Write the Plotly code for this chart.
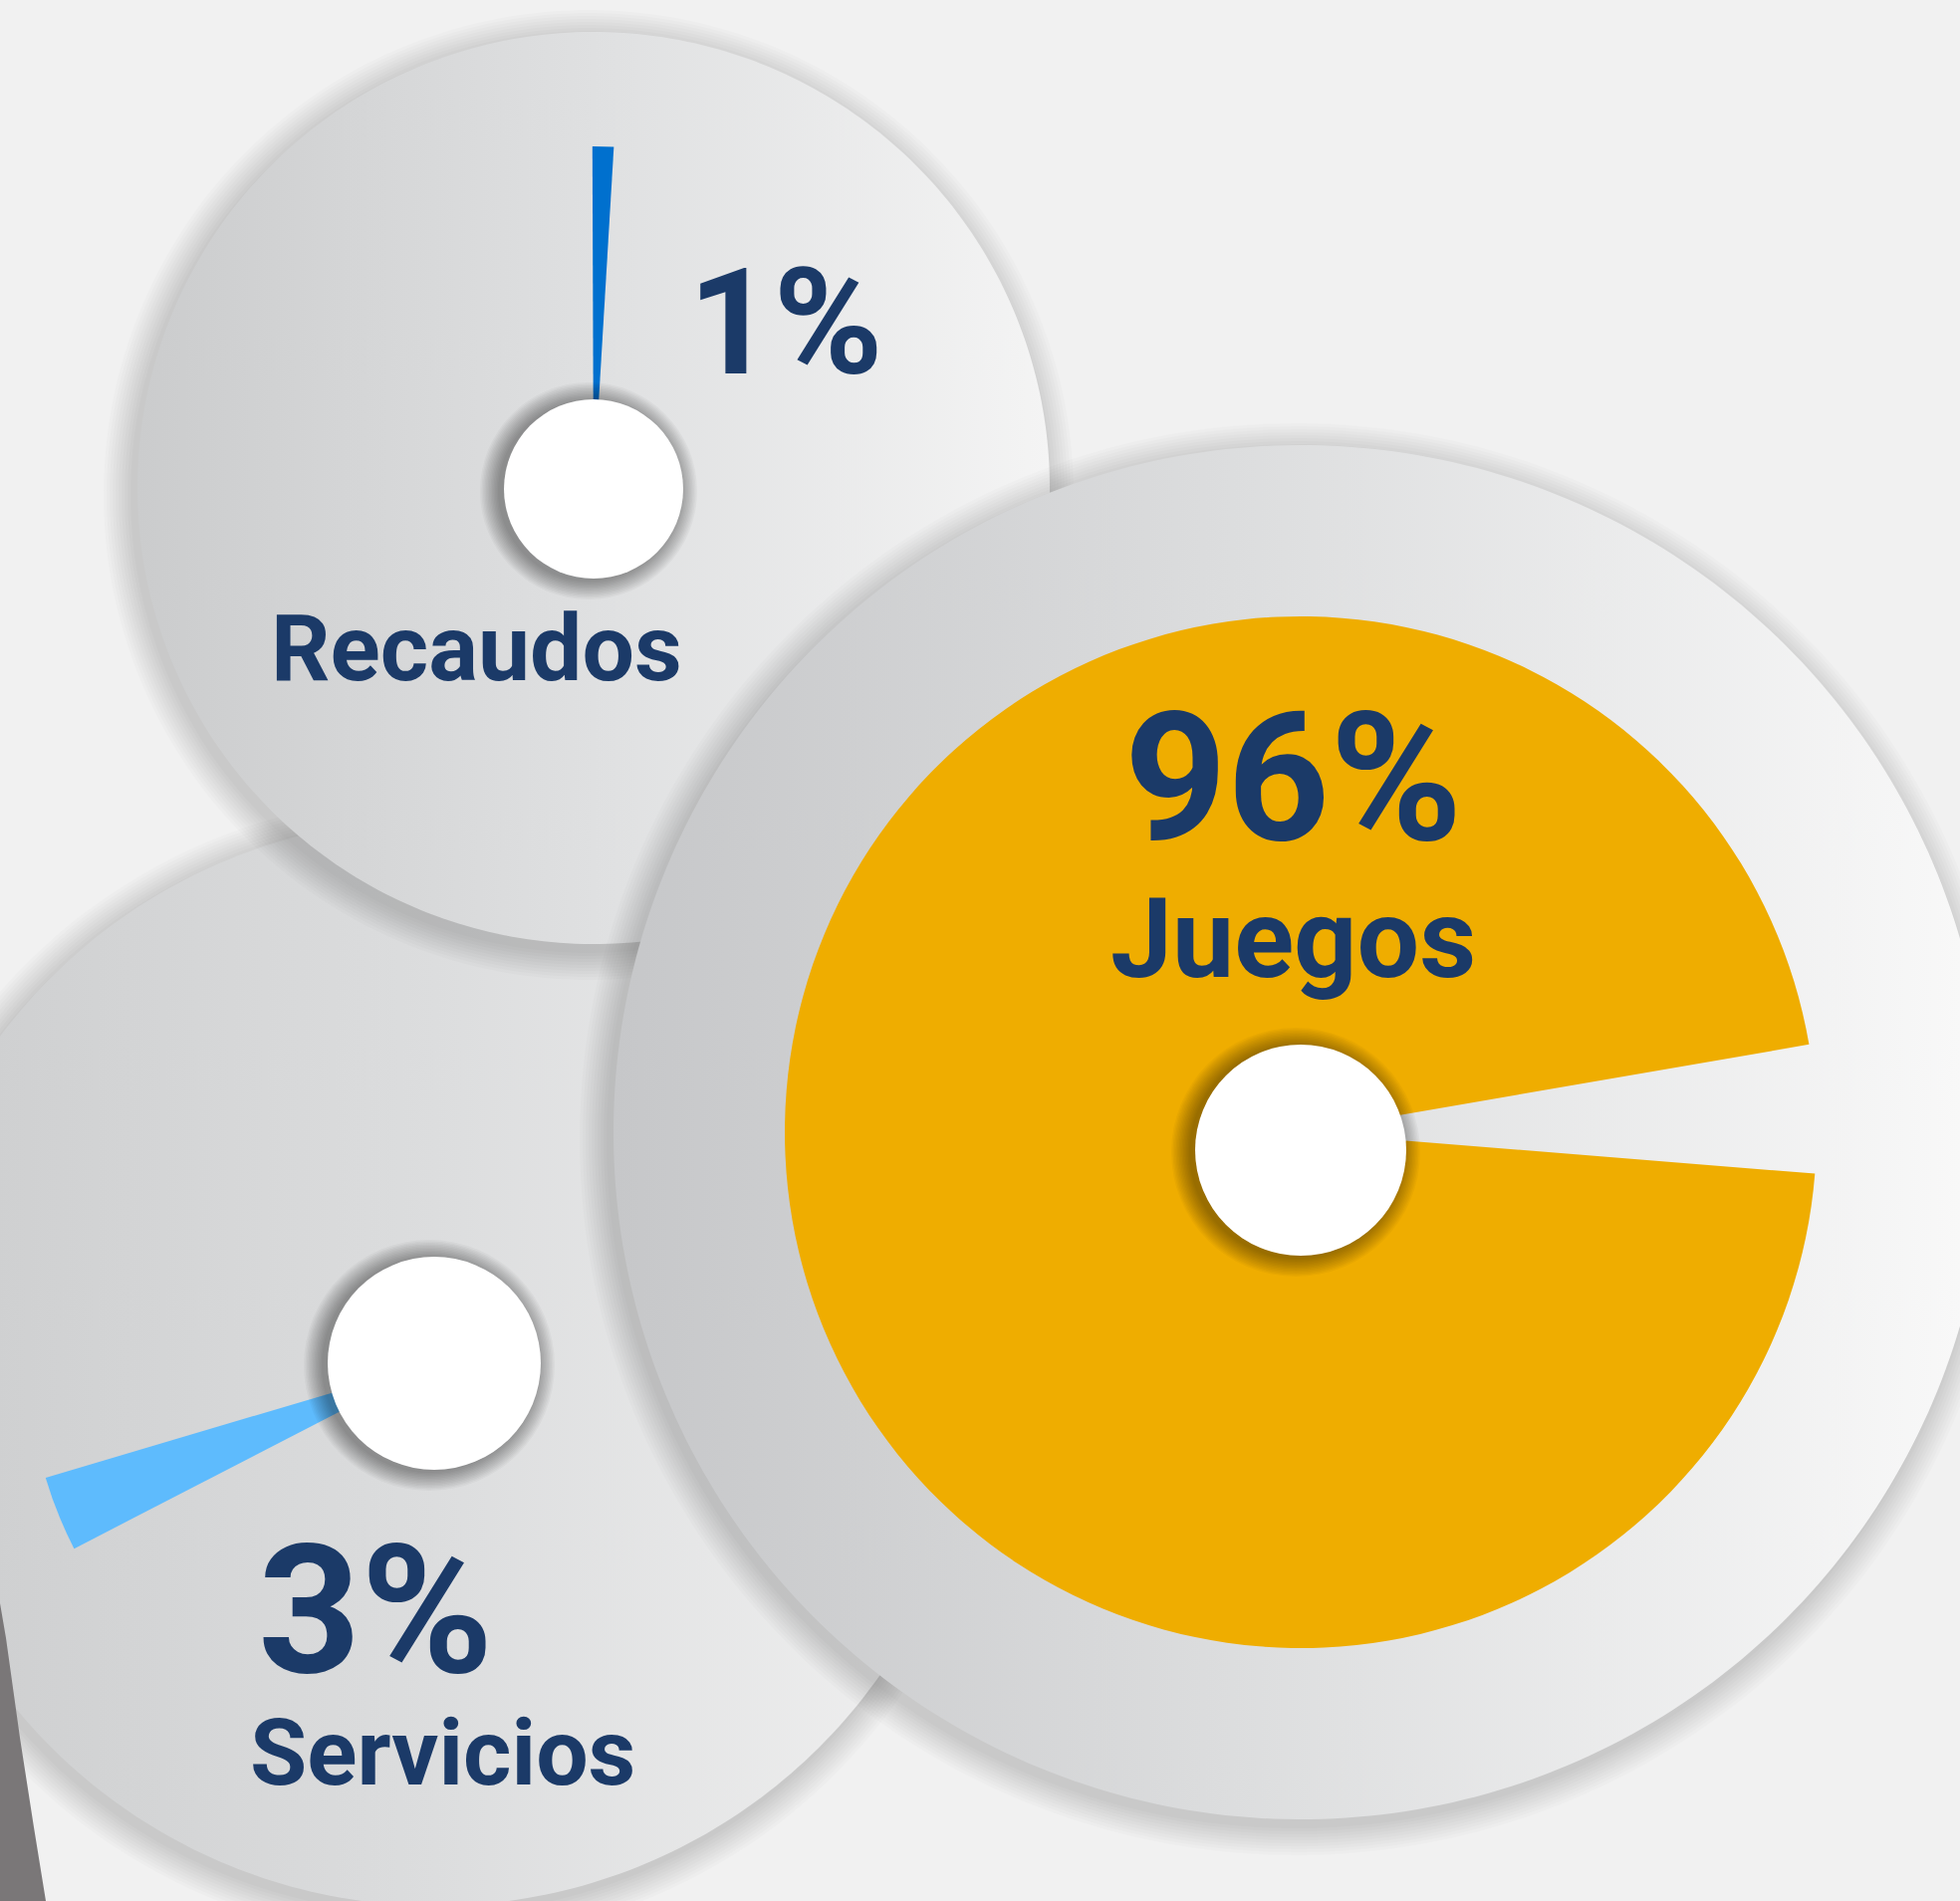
import numpy as np
import plotly.graph_objects as go

W, H = 1968, 1909

# datos
categorias = ["Recaudos", "Servicios", "Juegos"]
porcentajes = [1, 3, 96]
colores = ["#0070CE", "#5EBBFD", "#EFAD00"]

# geometria de cada disco (pixeles)
centros = [(596, 490), (437, 1368), (1306, 1137)]
radio_disco = [458, 546, 690]
radio_pastel = [343, 408, 518]
centro_hueco = [(596, 491), (436, 1369), (1306, 1155)]
radio_hueco = [90, 107, 106]
angulo_centro = [1.6, 248.1, 267.4]   # grados, sentido horario desde las 12
grad_disco = [
    [[0, "#cbcccd"], [0.5, "#dfe0e1"], [1, "#f4f4f4"]],
    [[0, "#cccdce"], [0.5, "#dcddde"], [1, "#f1f1f1"]],
    [[0, "#c6c7c9"], [0.45, "#dcddde"], [1, "#f9f9f9"]],
]

# textos: (x, y del centro de las mayusculas, tamano)
pos_pct = [(789, 324, 149), (377, 1617, 180), (1305, 790, 180)]
pos_cat = [(478, 651, 93), (444, 1760, 93), (1292, 928, 111)]
salto_juegos = 138   # distancia entre lineas base de "96%" y "Juegos"
azul_texto = "#1B3A68"


def circulo(cx, cy, r, n=360):
    t = np.linspace(0, 2 * np.pi, n)
    return cx + r * np.cos(t), cy + r * np.sin(t)


fig = go.Figure()

# orden de dibujo: Servicios abajo, luego Recaudos, luego Juegos
orden = [1, 0, 2]
for i in orden:
    cx, cy = centros[i]
    r = radio_disco[i]
    # sombra suave
    for d in range(2, 30, 3):
        xs, ys = circulo(cx - 5, cy + 7, r + d)
        fig.add_trace(go.Scatter(x=xs, y=ys, fill="toself", mode="none",
                                 fillcolor="rgba(0,0,0,0.016)",
                                 hoverinfo="skip", showlegend=False))
    xs, ys = circulo(cx, cy, r)
    fig.add_trace(go.Scatter(x=xs, y=ys, fill="toself", mode="none",
                             fillgradient=dict(type="horizontal", colorscale=grad_disco[i]),
                             hoverinfo="skip", showlegend=False))
    if i == 1:
        # franja oscura en la esquina inferior izquierda
        fig.add_trace(go.Scatter(x=[0, 6, 20, 34, 46, 0], y=[1610, 1645, 1745, 1835, 1909, 1909],
                                 fill="toself", mode="none", fillcolor="#7a7778",
                                 hoverinfo="skip", showlegend=False))

# porciones
for i, cat in enumerate(categorias):
    cx, cy = centros[i]
    r = radio_pastel[i]
    p = porcentajes[i]
    rot = angulo_centro[i] - p * 3.6 / 2
    fig.add_trace(go.Pie(
        labels=[cat, "Resto"], values=[p, 100 - p],
        marker=dict(colors=[colores[i], "rgba(0,0,0,0)"], line=dict(width=0)),
        sort=False, direction="clockwise", rotation=rot,
        textinfo="none", textposition="none", hoverinfo="label+percent",
        showlegend=False,
        domain=dict(x=[(cx - r) / W, (cx + r) / W], y=[1 - (cy + r) / H, 1 - (cy - r) / H]),
    ))

# huecos blancos con sombra
shapes = []
for i in range(3):
    hx, hy = centro_hueco[i]
    rh = radio_hueco[i]
    for d in np.arange(1, 20, 1.5):
        shapes.append(dict(type="circle", xref="x", yref="y", layer="above",
                           x0=hx - 5 - rh - d, x1=hx - 5 + rh + d,
                           y0=hy + 2 - rh - d, y1=hy + 2 + rh + d,
                           fillcolor="rgba(0,0,0,0.03)", line=dict(width=0)))
    shapes.append(dict(type="circle", xref="x", yref="y", layer="above",
                       x0=hx - rh, x1=hx + rh, y0=hy - rh, y1=hy + rh,
                       fillcolor="white", line=dict(width=0)))

annotations = []
for i, cat in enumerate(categorias):
    xp, yp, sp = pos_pct[i]
    xc, yc, sc = pos_cat[i]
    if cat == "Juegos":
        # porcentaje y nombre juntos en un solo texto de dos lineas
        texto = (f"<span style='font-size:{sp}px'>{porcentajes[i]}%</span><br>"
                 f"<span style='font-size:{sc}px'>{cat}</span>")
        annotations.append(dict(x=(xp + xc) / 2, y=yp - 0.645 * sp, xref="x", yref="y",
                                text=texto, showarrow=False, xanchor="center", yanchor="top",
                                font=dict(family="Roboto", size=salto_juegos / 1.3,
                                          color=azul_texto, weight=700)))
        continue
    annotations.append(dict(x=xp, y=yp, xref="x", yref="y", text=f"{porcentajes[i]}%",
                            showarrow=False, xanchor="center", yanchor="middle",
                            font=dict(family="Roboto", size=sp, color=azul_texto, weight=700)))
    annotations.append(dict(x=xc, y=yc, xref="x", yref="y", text=cat,
                            showarrow=False, xanchor="center", yanchor="middle",
                            font=dict(family="Roboto", size=sc, color=azul_texto, weight=700)))

fig.update_layout(
    width=W, height=H,
    margin=dict(l=0, r=0, t=0, b=0),
    paper_bgcolor="#f1f1f1", plot_bgcolor="#f1f1f1",
    xaxis=dict(range=[0, W], visible=False, fixedrange=True),
    yaxis=dict(range=[H, 0], visible=False, fixedrange=True),
    shapes=shapes, annotations=annotations,
    showlegend=False,
)

fig.write_html("out.html", config={"displayModeBar": False},
               post_script="document.body.style.margin='0';")
